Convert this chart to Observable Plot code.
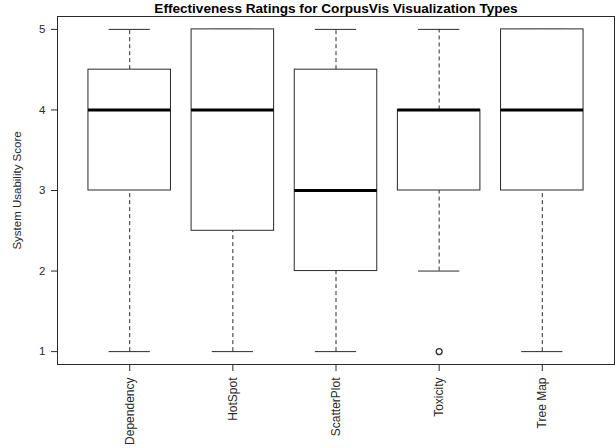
<!DOCTYPE html>
<html><head><meta charset="utf-8">
<script src="https://cdn.jsdelivr.net/npm/d3@7"></script>
<script src="https://cdn.jsdelivr.net/npm/@observablehq/plot@0.6"></script>
<style>body{margin:0;background:#fff} svg{display:block}</style>
</head><body><div id="chart"></div>
<script>
const categories = ["Dependency", "HotSpot", "ScatterPlot", "Toxicity", "Tree Map"];
const lowerWhisker = [1, 1, 1, 2, 1];
const q1 = [3, 2.5, 2, 3, 3];
const median = [4, 4, 3, 4, 4];
const q3 = [4.5, 5, 4.5, 4, 5];
const upperWhisker = [5, 5, 5, 5, 5];
const outlierCategory = ["Toxicity"];
const outlierValue = [1];
const yTicks = [1, 2, 3, 4, 5];
const title = "Effectiveness Ratings for CorpusVis Visualization Types";
const yLabel = "System Usability Score";

const boxes = categories.map((c, i) => ({i: i + 1, c, lo: lowerWhisker[i], q1: q1[i], med: median[i], q3: q3[i], hi: upperWhisker[i]}));
const outliers = outlierCategory.map((c, j) => ({i: categories.indexOf(c) + 1, v: outlierValue[j]}));
const halfBox = 0.4, halfCap = 0.2;
const ink = "#2a2a2a";

const chart = Plot.plot({
  width: 616,
  height: 448,
  marginLeft: 57,
  marginRight: 2,
  marginTop: 16,
  marginBottom: 84,
  style: {fontFamily: "'Liberation Sans', Arial, Helvetica, sans-serif", fontSize: "11.5px", color: ink, background: "#fff"},
  x: {domain: [0.3, 5.7]},
  y: {domain: [0.84, 5.16]},
  marks: [
    Plot.ruleX(boxes, {x: "i", y1: "lo", y2: "q1", stroke: ink, strokeDasharray: "4,3"}),
    Plot.ruleX(boxes, {x: "i", y1: "q3", y2: "hi", stroke: ink, strokeDasharray: "4,3"}),
    Plot.ruleY(boxes, {y: "lo", x1: d => d.i - halfCap, x2: d => d.i + halfCap, stroke: ink}),
    Plot.ruleY(boxes, {y: "hi", x1: d => d.i - halfCap, x2: d => d.i + halfCap, stroke: ink}),
    Plot.rect(boxes, {x1: d => d.i - halfBox, x2: d => d.i + halfBox, y1: "q1", y2: "q3", fill: "white", stroke: ink}),
    Plot.ruleY(boxes, {y: "med", x1: d => d.i - halfBox, x2: d => d.i + halfBox, stroke: "#000", strokeWidth: 3}),
    Plot.dot(outliers, {x: "i", y: "v", r: 3, stroke: ink, fill: "none", strokeWidth: 1.2}),
    Plot.frame({stroke: ink}),
    Plot.axisY({ticks: yTicks, tickSize: 6, tickPadding: 6, label: null, fontSize: 11.5, tickFormat: d => String(d)}),
    Plot.axisX({ticks: [1, 2, 3, 4, 5], tickSize: 7, tickPadding: 6, tickRotate: -90, label: null, fontSize: 12, tickFormat: i => categories[i - 1]}),
    Plot.text([yLabel], {frameAnchor: "left", dx: -40, rotate: -90, textAnchor: "middle", lineAnchor: "middle", fontSize: 11.5, fill: ink}),
    Plot.text([title], {frameAnchor: "top", dy: -7.5, lineAnchor: "middle", fontSize: 13.6, fontWeight: "bold", fill: "#000"})
  ]
});
document.getElementById("chart").append(chart);
</script>
</body></html>
